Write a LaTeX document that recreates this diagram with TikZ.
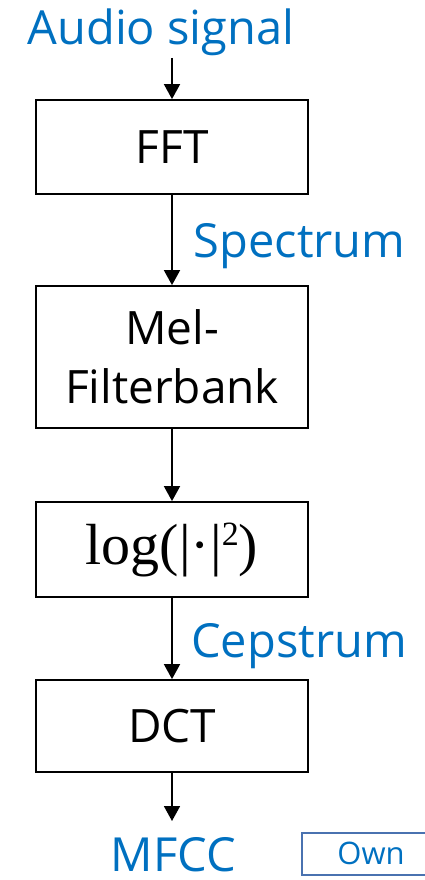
\documentclass[tikz,border=0pt]{standalone}
\usepackage{fontspec}
\setmainfont{Open Sans}
\newfontfamily\serifmath{Liberation Serif}
\usetikzlibrary{arrows.meta}
\definecolor{pblue}{HTML}{0070C0}
\definecolor{oblue}{HTML}{4A72B0}
\tikzset{
  stepbox/.style={draw=black, line width=1.8pt, minimum width=272pt, inner sep=0pt, align=center, font=\fontsize{46}{59}\selectfont},
  conn/.style={line width=1.8pt, -{Triangle[width=16pt,length=15pt]}},
  bluelbl/.style={text=pblue, inner sep=0pt, anchor=base, font=\fontsize{47}{52}\selectfont},
}
\begin{document}
\begin{tikzpicture}[x=1pt,y=-1pt]
\useasboundingbox (0,0) rectangle (424,880);
\node[bluelbl] (audio) at (161,45) {Audio signal};
\node[stepbox, minimum height=94pt] (fft) at (172,147) {FFT};
\node[stepbox, minimum height=142pt] (mel) at (172,357) {Mel-\\Filterbank};
\node[stepbox, minimum height=95pt] (log) at (172,549.5) {\serifmath\fontsize{58}{60}\selectfont log(|·|\raisebox{19pt}{\fontsize{34}{34}\selectfont 2})};
\node[stepbox, minimum height=92pt] (dct) at (172,726) {DCT};
\node[bluelbl] (mfcc) at (173.5,871) {MFCC};
\coordinate (ain) at (172,58);
\coordinate (mout) at (172,821);
\node[bluelbl] (spec) at (299.5,257) {Spectrum};
\node[bluelbl] (ceps) at (299,657) {Cepstrum};
\draw[oblue, line width=1.2pt] (302,833) rectangle (440,875);
\node[text=pblue, inner sep=0pt, anchor=base, font=\fontsize{31}{33}\selectfont] (own) at (371,864) {Own};
\draw[conn] (ain) -- (fft.north);
\draw[conn] (fft.south) -- (mel.north);
\draw[conn] (mel.south) -- (log.north);
\draw[conn] (log.south) -- (dct.north);
\draw[conn] (dct.south) -- (mout);
\end{tikzpicture}
\end{document}
